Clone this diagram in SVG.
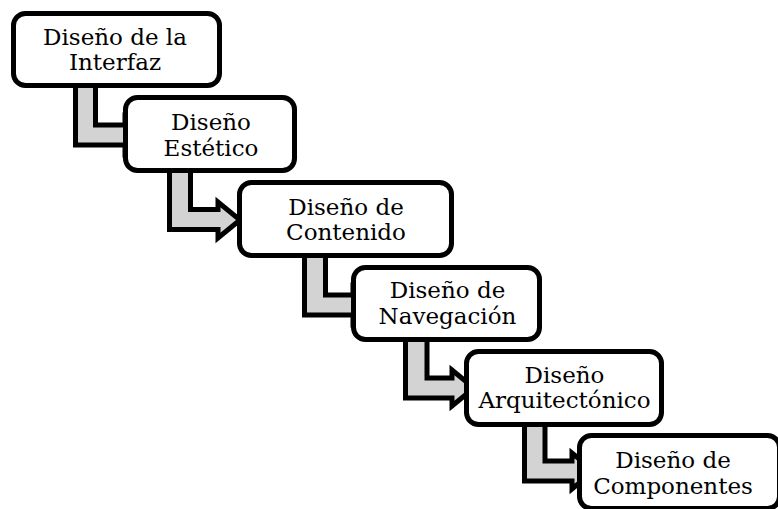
<svg xmlns="http://www.w3.org/2000/svg" width="778" height="509" viewBox="0 0 778 509">
<style>
  .box { fill: #ffffff; stroke: #000000; stroke-width: 5; }
  .arrow { fill: #d3d3d3; stroke: #000000; stroke-width: 5; stroke-linejoin: miter; }
  .lbl { font-family: "DejaVu Serif", "Liberation Serif", serif; font-size: 23px; fill: #000000; text-anchor: middle; }
</style>
<rect x="0" y="0" width="778" height="509" fill="#ffffff"/>
<g id="connectors">
  <polygon class="arrow" points="75.5,70 95.5,70 95.5,125 125,125 125,117.5 147,135 125,152.5 125,145 75.5,145"/>
  <polygon class="arrow" points="169.5,160 190.5,160 190.5,209.5 218,209.5 218,202 240,220 218,238 218,229.5 169.5,229.5"/>
  <polygon class="arrow" points="304.5,245 325.5,245 325.5,295 353,295 353,287.5 375,305 353,322.5 353,315 304.5,315"/>
  <polygon class="arrow" points="405.5,330 427,330 427,378 452,378 452,370 474,388 452,406 452,398 405.5,398"/>
  <polygon class="arrow" points="524.5,415 545,415 545,461 572,461 572,453 594,471 572,489 572,481 524.5,481"/>
</g>
<g id="node1">
  <rect class="box" x="13.5" y="13.5" width="206" height="72" rx="12"/>
  <text class="lbl" x="115" y="45">Diseño de la</text>
  <text class="lbl" x="115" y="70">Interfaz</text>
</g>
<g id="node2">
  <rect class="box" x="125.5" y="97.5" width="169" height="73" rx="12"/>
  <text class="lbl" x="211" y="130">Diseño</text>
  <text class="lbl" x="211" y="155.5">Estético</text>
</g>
<g id="node3">
  <rect class="box" x="239.5" y="182.5" width="212" height="73" rx="12"/>
  <text class="lbl" x="346" y="215">Diseño de</text>
  <text class="lbl" x="346" y="240">Contenido</text>
</g>
<g id="node4">
  <rect class="box" x="353.5" y="267.5" width="186" height="72" rx="12"/>
  <text class="lbl" x="447.5" y="298">Diseño de</text>
  <text class="lbl" x="447.5" y="324">Navegación</text>
</g>
<g id="node5">
  <rect class="box" x="466.5" y="351.5" width="195" height="73" rx="12"/>
  <text class="lbl" x="564.5" y="383">Diseño</text>
  <text class="lbl" x="564.5" y="408">Arquitectónico</text>
</g>
<g id="node6">
  <rect class="box" x="579.5" y="435.5" width="200" height="73" rx="12"/>
  <text class="lbl" x="673" y="468">Diseño de</text>
  <text class="lbl" x="673" y="494">Componentes</text>
</g>
</svg>
